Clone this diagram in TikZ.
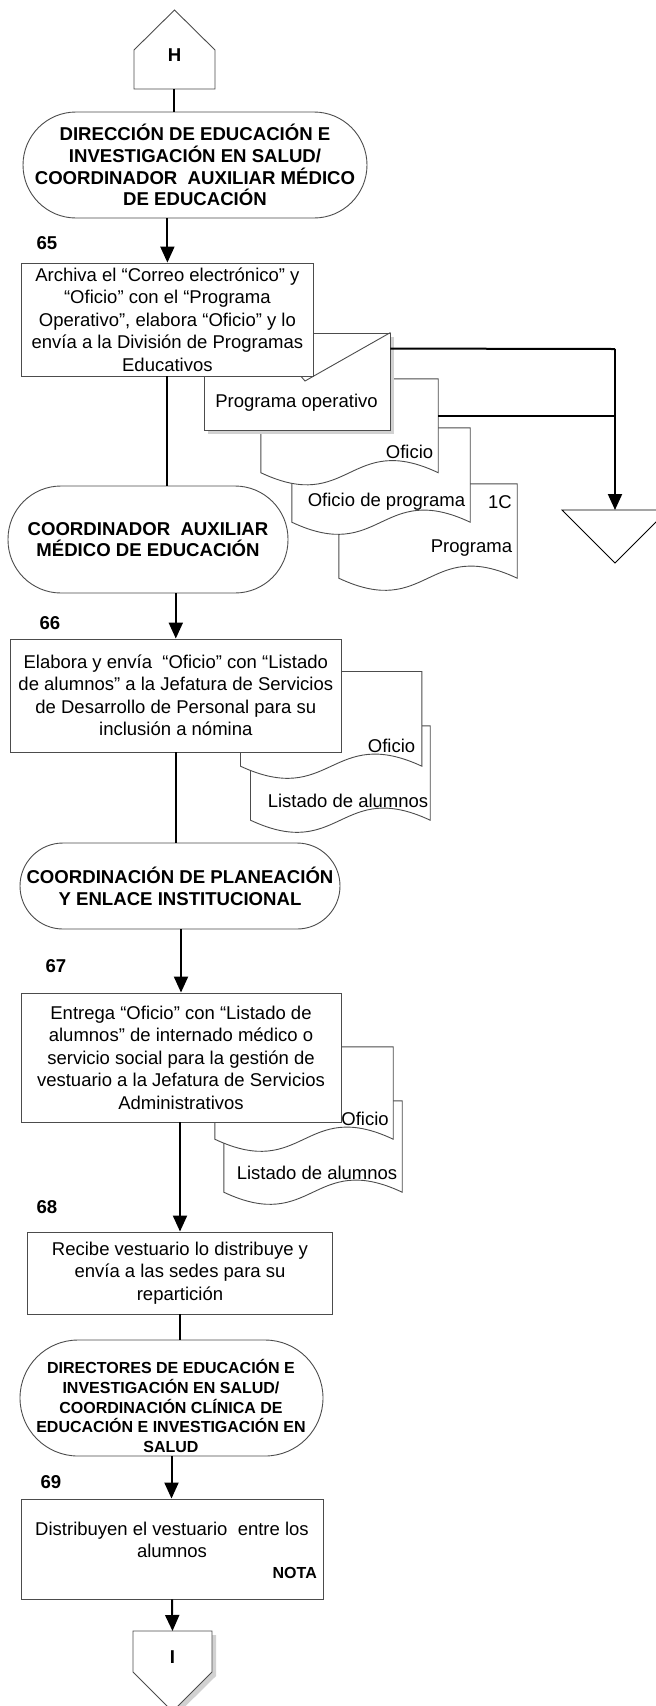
\documentclass[tikz,border=0pt]{standalone}
\usepackage{fontspec}
\setmainfont{Liberation Sans}
\usetikzlibrary{arrows.meta,calc}
\newcommand\mydocshape[1]{%
  \filldraw[shp] (#1.north west) -- (#1.north east) -- (#1.south east)
    .. controls ($(#1.south)+(0,-42)$) and ($(#1.south)+(0,42)$) .. (#1.south west) -- cycle;}
\begin{document}
\begin{tikzpicture}[x=1pt,y=-1pt,
  shp/.style={draw=black!70, line width=0.9pt, fill=white},
  box/.style={shp, rectangle, inner sep=0pt, align=center, font=\fontsize{18.5}{22.5}\selectfont},
  term/.style={shp, rectangle, inner sep=0pt, align=center, font=\fontsize{18.6}{21.7}\selectfont\bfseries},
  anchorbox/.style={rectangle, inner sep=0pt},
  reg/.style={inner sep=0pt, align=center, font=\fontsize{18.5}{22.5}\selectfont},
  bld/.style={inner sep=0pt, align=center, font=\fontsize{18.6}{21.7}\selectfont\bfseries},
  small/.style={inner sep=0pt, align=center, font=\fontsize{16}{19.8}\selectfont\bfseries},
  conn/.style={draw=black, line width=2pt},
  arr/.style={conn, -{Triangle[length=16pt,width=14pt]}},
  shadow/.style={fill=black!18, draw=none}
]
\useasboundingbox (0,0) rectangle (656,1706);

% ---- connector H
\filldraw[shp] (134,89) -- (134,50) -- (174.5,10) -- (215,50) -- (215,89) -- cycle;
\node[bld] (h) at (174.5,55) {H};
\coordinate (hb) at (174,89);

% ---- terminator 1
\node[term, minimum width=344, minimum height=106, rounded corners=53] (t1) at (195,165)
  {DIRECCIÓN DE EDUCACIÓN E\\INVESTIGACIÓN EN SALUD/\\COORDINADOR\ \ AUXILIAR MÉDICO\\DE EDUCACIÓN};

\node[bld] (n65) at (47,243) {65};

% ---- document stack 1 (back to front)
\node[anchorbox, minimum width=178, minimum height=94] (prog) at (428,531) {};
\mydocshape{prog}
\node[reg] (prog1c) at (500,502) {1C};
\node[reg] (progtxt) at (471.5,548) {Programa};

\node[anchorbox, minimum width=178, minimum height=94] (ofp) at (381,475) {};
\mydocshape{ofp}
\node[reg] (ofptxt) at (386.5,502) {Oficio de programa};

\node[anchorbox, minimum width=177, minimum height=93.5] (of1) at (349.5,425.75) {};
\mydocshape{of1}
\node[reg] (of1txt) at (409.5,452) {Oficio};

\fill[shadow] (208,337) rectangle (394,434);
\node[shp, rectangle, inner sep=0pt, minimum width=186, minimum height=97] (po) at (297,381.5) {};
\node[reg] (potxt) at (296.5,403) {Programa operativo};
\draw[draw=black!70, line width=0.9pt] (299,374) -- (305,381) -- (po.north east);

% ---- box 65
\node[box, minimum width=291.3, minimum height=113] (b65) at (167.4,319.5)
  {Archiva el “Correo electrónico” y\\“Oficio” con el “Programa\\Operativo”, elabora “Oficio” y lo\\envía a la División de Programas\\Educativos};

% ---- archive triangle
\filldraw[shp, draw=black] (562,510) -- (668,510) -- (615,563) -- cycle;
\coordinate (trtop) at (615,510);
\coordinate (j1) at (615,349);
\coordinate (p1) at ($(po.north east)+(0,16)$);
\coordinate (p2) at ($(of1.north east)+(0,37)$);
\draw[conn] (p1) -- (j1);
\draw[conn] (p2) -- (p2 -| j1);
\draw[arr] (j1) -- (trtop);

% ---- terminator 2
\node[term, minimum width=280, minimum height=107, rounded corners=53] (t2) at (148,539.5)
  {COORDINADOR\ \ AUXILIAR\\MÉDICO DE EDUCACIÓN};

\node[bld] (n66) at (50,623) {66};

% ---- document stack 2
\node[anchorbox, minimum width=179.3, minimum height=94] (lis2) at (340.35,773) {};
\mydocshape{lis2}
\node[reg] (lis2txt) at (348,801) {Listado de alumnos};
\node[anchorbox, minimum width=181, minimum height=94.3] (of2) at (331.2,718.85) {};
\mydocshape{of2}
\node[reg] (of2txt) at (391.5,746) {Oficio};

% ---- box 66
\node[box, minimum width=330.5, minimum height=113] (b66) at (175.8,695.5)
  {Elabora y envía\ \ “Oficio” con “Listado\\de alumnos” a la Jefatura de Servicios\\de Desarrollo de Personal para su\\inclusión a nómina};

% ---- terminator 3
\node[term, minimum width=320, minimum height=86, rounded corners=43] (t3) at (180,886)
  {COORDINACIÓN DE PLANEACIÓN\\Y ENLACE INSTITUCIONAL};

\node[bld] (n67) at (56,966) {67};

% ---- document stack 3
\node[anchorbox, minimum width=178, minimum height=91] (lis3) at (313,1146.5) {};
\mydocshape{lis3}
\node[reg] (lis3txt) at (317,1173) {Listado de alumnos};
\node[anchorbox, minimum width=178, minimum height=92] (of3) at (304,1093) {};
\mydocshape{of3}
\node[reg] (of3txt) at (365,1119) {Oficio};

% ---- box 67
\node[box, minimum width=320, minimum height=129] (b67) at (181,1057.5)
  {Entrega “Oficio” con “Listado de\\alumnos” de internado médico o\\servicio social para la gestión de\\vestuario a la Jefatura de Servicios\\Administrativos};

\node[bld] (n68) at (47,1207) {68};

% ---- box 68
\node[box, minimum width=304.3, minimum height=82] (b68) at (180,1273)
  {Recibe vestuario lo distribuye y\\envía a las sedes para su\\repartición};

% ---- terminator 4
\node[shp, rectangle, minimum width=303, minimum height=116, rounded corners=58] (t4) at (171.5,1398) {};
\node[small] (t4txt) at (171,1406)
  {DIRECTORES DE EDUCACIÓN E\\INVESTIGACIÓN EN SALUD/\\COORDINACIÓN CLÍNICA DE\\EDUCACIÓN E INVESTIGACIÓN EN\\SALUD};

\node[bld] (n69) at (51,1482) {69};

% ---- box 69
\node[shp, rectangle, minimum width=302, minimum height=100] (b69) at (172,1549) {};
\node[reg] (b69txt) at (172,1540) {Distribuyen el vestuario\ \ entre los\\alumnos};
\node[small, anchor=east] (nota) at (317,1573) {NOTA};

% ---- connector I
\fill[shadow] (137,1635) -- (216,1635) -- (216,1676) -- (176.5,1715) -- (137,1676) -- cycle;
\filldraw[shp] (133,1631) -- (212,1631) -- (212,1672) -- (172.5,1711.5) -- (133,1672) -- cycle;
\node[bld] (itxt) at (172.5,1657) {I};
\coordinate (itop) at (172.5,1631);

% ---- flow connectors
\draw[conn] (hb) -- (hb |- t1.north);
\draw[arr] (b65.north |- t1.south) -- (b65.north);
\draw[conn] (b65.south) -- (b65.south |- t2.north);
\draw[arr] (b66.north |- t2.south) -- (b66.north);
\draw[conn] (b66.south) -- (b66.south |- t3.north);
\draw[arr] (b67.north |- t3.south) -- (b67.north);
\draw[arr] (b68.north |- b67.south) -- (b68.north);
\draw[conn] (b68.south) -- (b68.south |- t4.north);
\draw[arr] (t4.south) -- (t4.south |- b69.north);
\draw[arr] (b69.south) -- (itop);
\end{tikzpicture}
\end{document}
